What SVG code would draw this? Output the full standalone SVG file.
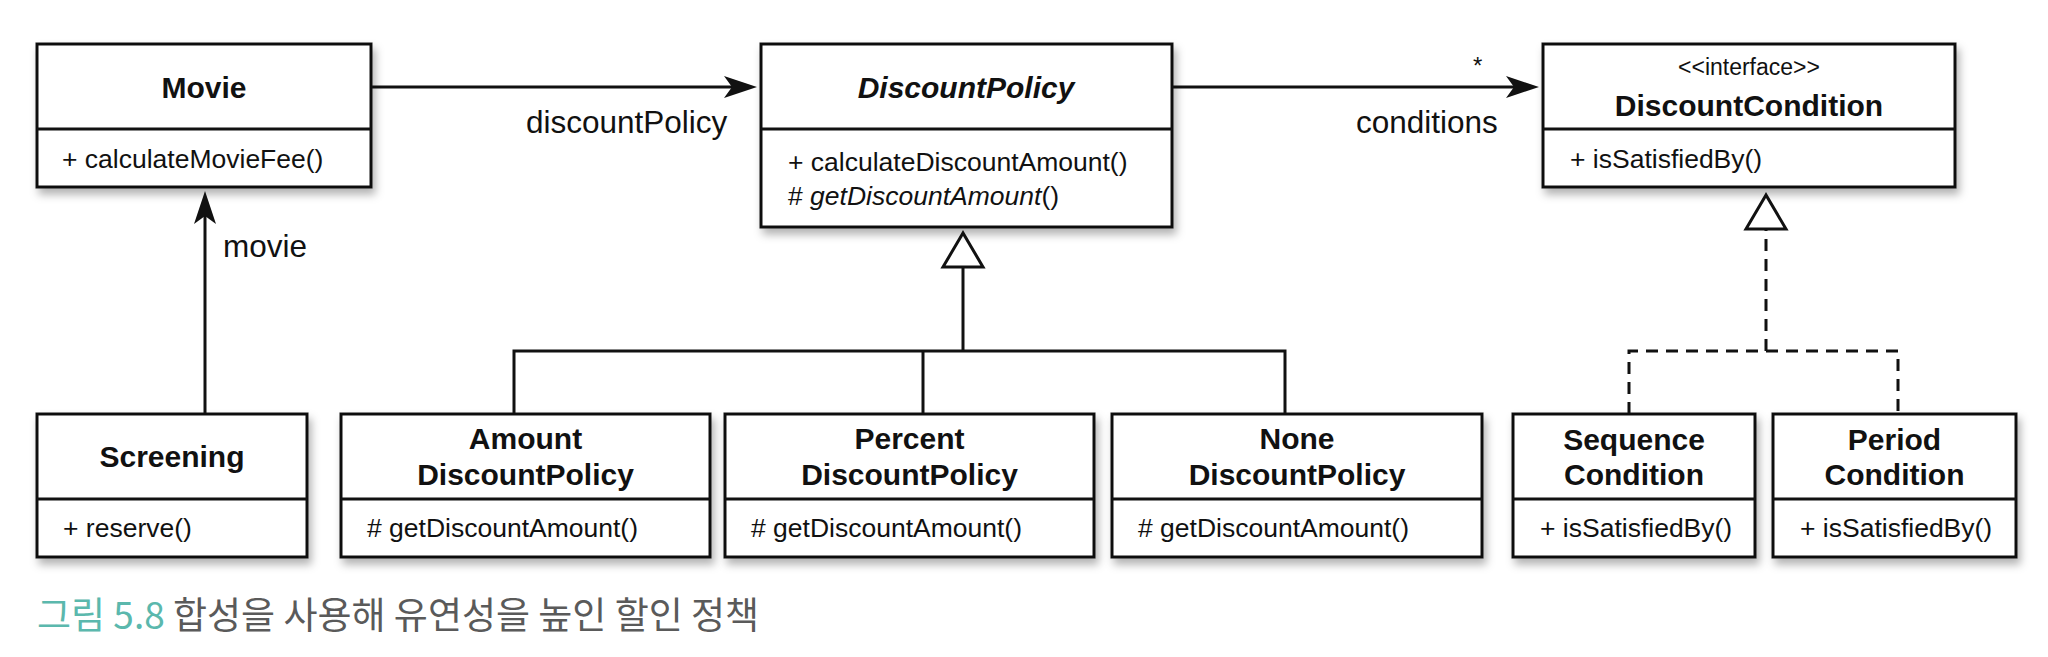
<svg xmlns="http://www.w3.org/2000/svg" width="2048" height="657" viewBox="0 0 2048 657">
<defs>
<filter id="sh" x="-10%" y="-10%" width="125%" height="135%">
<feDropShadow dx="3" dy="6" stdDeviation="4" flood-color="#000" flood-opacity="0.3"/>
</filter>
<marker id="arrow" viewBox="-34 -12 42 24" refX="0" refY="0" markerWidth="42" markerHeight="24" markerUnits="userSpaceOnUse" orient="auto">
<path d="M6,0 L-27,-11 L-19,0 L-27,11 Z" fill="#111"/>
</marker>
</defs>
<style>
.box{fill:#fff;stroke:#111;stroke-width:3;filter:url(#sh)}
.div{stroke:#111;stroke-width:3}
.t{font-family:"Liberation Sans","Noto Sans CJK KR",sans-serif;fill:#111}
.title{font-size:30px;font-weight:bold;text-anchor:middle}
.m{font-size:26.5px}
.lbl{font-size:31.5px}
.ln{fill:none;stroke:#111;stroke-width:3}
.dash{fill:none;stroke:#111;stroke-width:3;stroke-dasharray:12 8}
.tri{fill:#fff;stroke:#111;stroke-width:3;stroke-linejoin:miter}
.cap{font-family:"Noto Sans CJK KR","Liberation Sans",sans-serif;font-size:37px}
</style>
<rect width="2048" height="657" fill="#fff"/>

<g id="connectors">
<line class="ln" x1="371" y1="87" x2="751" y2="87" marker-end="url(#arrow)"/>
<line class="ln" x1="1172" y1="87" x2="1533" y2="87" marker-end="url(#arrow)"/>
<line class="ln" x1="205" y1="414" x2="205" y2="197" marker-end="url(#arrow)"/>
<polyline class="ln" points="514,414 514,351 1285,351 1285,414"/>
<line class="ln" x1="923" y1="351" x2="923" y2="414"/>
<line class="ln" x1="963" y1="351" x2="963" y2="267"/>
<polygon class="tri" points="963,233 943,267 983,267"/>
<polyline class="dash" points="1629,414 1629,351 1898,351 1898,414"/>
<line class="dash" x1="1766" y1="351" x2="1766" y2="229"/>
<polygon class="tri" points="1766,195 1746,229 1786,229"/>
<text class="t lbl" x="526" y="133">discountPolicy</text>
<text class="t lbl" x="1356" y="133">conditions</text>
<text class="t lbl" x="223" y="257">movie</text>
<text class="t" x="1473" y="74" font-size="24">*</text>
</g>

<g id="movie">
<rect class="box" x="37" y="44" width="334" height="143"/>
<line class="div" x1="37" y1="129" x2="371" y2="129"/>
<text class="t title" x="204" y="98">Movie</text>
<text class="t m" x="62" y="168">+ calculateMovieFee()</text>
</g>

<g id="discountPolicy">
<rect class="box" x="761" y="44" width="411" height="183"/>
<line class="div" x1="761" y1="129" x2="1172" y2="129"/>
<text class="t title" x="966" y="98" font-style="italic">DiscountPolicy</text>
<text class="t m" x="788" y="171">+ calculateDiscountAmount()</text>
<text class="t m" x="788" y="205"># <tspan font-style="italic">getDiscountAmount</tspan>()</text>
</g>

<g id="discountCondition">
<rect class="box" x="1543" y="44" width="412" height="143"/>
<line class="div" x1="1543" y1="129" x2="1955" y2="129"/>
<text class="t" x="1749" y="75" font-size="23" text-anchor="middle">&lt;&lt;interface&gt;&gt;</text>
<text class="t title" x="1749" y="116">DiscountCondition</text>
<text class="t m" x="1570" y="168">+ isSatisfiedBy()</text>
</g>

<g id="screening">
<rect class="box" x="37" y="414" width="270" height="143"/>
<line class="div" x1="37" y1="499" x2="307" y2="499"/>
<text class="t title" x="172" y="467">Screening</text>
<text class="t m" x="63" y="537">+ reserve()</text>
</g>

<g id="amountDiscountPolicy">
<rect class="box" x="341" y="414" width="369" height="143"/>
<line class="div" x1="341" y1="499" x2="710" y2="499"/>
<text class="t title" x="525.5" y="449">Amount</text>
<text class="t title" x="525.5" y="485">DiscountPolicy</text>
<text class="t m" x="367" y="537"># getDiscountAmount()</text>
</g>

<g id="percentDiscountPolicy">
<rect class="box" x="725" y="414" width="369" height="143"/>
<line class="div" x1="725" y1="499" x2="1094" y2="499"/>
<text class="t title" x="909.5" y="449">Percent</text>
<text class="t title" x="909.5" y="485">DiscountPolicy</text>
<text class="t m" x="751" y="537"># getDiscountAmount()</text>
</g>

<g id="noneDiscountPolicy">
<rect class="box" x="1112" y="414" width="370" height="143"/>
<line class="div" x1="1112" y1="499" x2="1482" y2="499"/>
<text class="t title" x="1297" y="449">None</text>
<text class="t title" x="1297" y="485">DiscountPolicy</text>
<text class="t m" x="1138" y="537"># getDiscountAmount()</text>
</g>

<g id="sequenceCondition">
<rect class="box" x="1513" y="414" width="242" height="143"/>
<line class="div" x1="1513" y1="499" x2="1755" y2="499"/>
<text class="t title" x="1634" y="450">Sequence</text>
<text class="t title" x="1634" y="485">Condition</text>
<text class="t m" x="1540" y="537">+ isSatisfiedBy()</text>
</g>

<g id="periodCondition">
<rect class="box" x="1773" y="414" width="243" height="143"/>
<line class="div" x1="1773" y1="499" x2="2016" y2="499"/>
<text class="t title" x="1894.5" y="450">Period</text>
<text class="t title" x="1894.5" y="485">Condition</text>
<text class="t m" x="1800" y="537">+ isSatisfiedBy()</text>
</g>

<g id="caption">
<text class="cap" x="37" y="629"><tspan fill="#5bb8ad">그림 5.8</tspan><tspan fill="#5a5a5a"> 합성을 사용해 유연성을 높인 할인 정책</tspan></text>
</g>
</svg>
